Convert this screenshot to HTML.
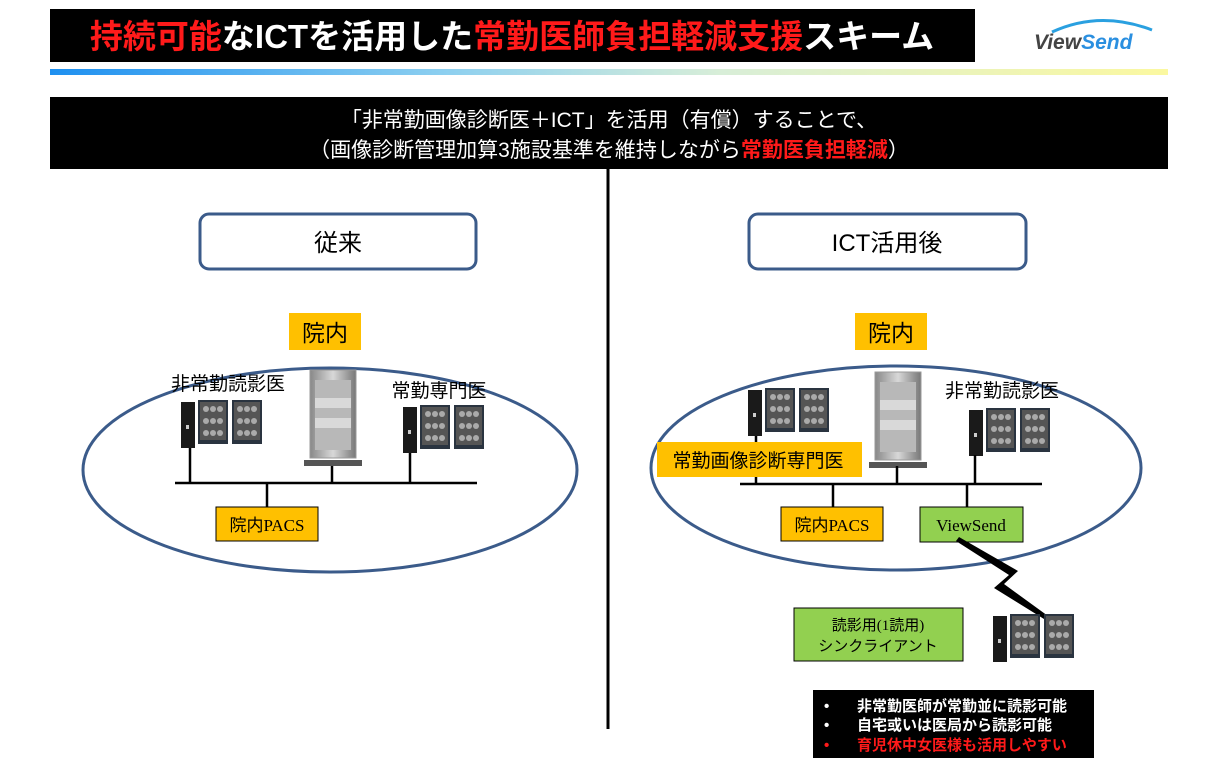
<!DOCTYPE html>
<html><head><meta charset="utf-8"><style>
body{margin:0;width:1218px;height:765px;background:#fff;overflow:hidden;font-family:"Liberation Sans","Noto Sans CJK JP",sans-serif}
svg{position:absolute;left:0;top:0}
</style></head><body>
<svg width="1218" height="765" viewBox="0 0 1218 765" font-family="Liberation Sans, Noto Sans CJK JP, sans-serif">
<defs>
<linearGradient id="g" x1="0" x2="1"><stop offset="0" stop-color="#1e90f0"/><stop offset="0.35" stop-color="#8ccff0"/><stop offset="0.6" stop-color="#d8eed8"/><stop offset="1" stop-color="#fbf8a0"/></linearGradient>
<linearGradient id="sv" x1="0" x2="1"><stop offset="0" stop-color="#888"/><stop offset="0.5" stop-color="#d8d8d8"/><stop offset="1" stop-color="#777"/></linearGradient>
<g id="mon"><rect x="0" y="0" width="30" height="44" fill="#2a3440"/><rect x="2" y="2" width="26" height="38" fill="#555"/>
<g fill="#aaa"><circle cx="8" cy="9" r="3"/><circle cx="15" cy="9" r="3"/><circle cx="22" cy="9" r="3"/><circle cx="8" cy="21" r="3"/><circle cx="15" cy="21" r="3"/><circle cx="22" cy="21" r="3"/><circle cx="8" cy="33" r="3"/><circle cx="15" cy="33" r="3"/><circle cx="22" cy="33" r="3"/></g></g>
<g id="ws"><rect x="0" y="2" width="14" height="46" fill="#1a1a1a"/><rect x="5" y="25" width="3" height="4" fill="#ccc"/><use href="#mon" x="17" y="0"/><use href="#mon" x="51" y="0"/></g>
<g id="srv"><rect x="6" y="0" width="46" height="88" fill="url(#sv)" stroke="#999"/><rect x="11" y="10" width="36" height="70" fill="#b8b8b8"/><rect x="11" y="28" width="36" height="10" fill="#eee" opacity=".6"/><rect x="11" y="48" width="36" height="10" fill="#eee" opacity=".6"/><path d="M0 90 L58 90 L58 96 L0 96Z" fill="#555"/></g>
</defs>
<rect x="50" y="9" width="925" height="53" fill="#000"/>
<text x="512" y="48" text-anchor="middle" font-size="33" font-weight="bold" fill="#fff"><tspan fill="#ff1a1a">持続可能</tspan>なICTを活用した<tspan fill="#ff1a1a">常勤医師負担軽減支援</tspan>スキーム</text>
<path d="M1052 32 Q1100 10 1152 30" stroke="#2aa0e0" stroke-width="3" fill="none"/>
<text x="1034" y="49" font-size="21" font-weight="bold" font-style="italic" fill="#444">View<tspan fill="#2a8fe0">Send</tspan></text>
<rect x="50" y="69" width="1118" height="6" fill="url(#g)"/>
<rect x="50" y="97" width="1118" height="72" fill="#000"/>
<text x="609" y="127" text-anchor="middle" font-size="21" fill="#fff">「非常勤画像診断医＋ICT」を活用（有償）することで、</text>
<text x="609" y="157" text-anchor="middle" font-size="21" fill="#fff">（画像診断管理加算3施設基準を維持しながら<tspan fill="#ff1a1a" font-weight="bold">常勤医負担軽減</tspan>）</text>
<rect x="606.5" y="169" width="3" height="560" fill="#000"/>
<rect x="200" y="214" width="276" height="55" rx="9" fill="#fff" stroke="#3b5b8a" stroke-width="3"/>
<text x="338" y="251" text-anchor="middle" font-size="24">従来</text>
<rect x="749" y="214" width="277" height="55" rx="9" fill="#fff" stroke="#3b5b8a" stroke-width="3"/>
<text x="887" y="251" text-anchor="middle" font-size="24">ICT活用後</text>
<ellipse cx="330" cy="470" rx="247" ry="102" fill="none" stroke="#3b5b8a" stroke-width="3"/>
<ellipse cx="896" cy="468" rx="245" ry="102" fill="none" stroke="#3b5b8a" stroke-width="3"/>
<rect x="289" y="313" width="72" height="37" fill="#ffc000"/><text x="325" y="341" text-anchor="middle" font-size="23">院内</text>
<rect x="855" y="313" width="72" height="37" fill="#ffc000"/><text x="891" y="341" text-anchor="middle" font-size="23">院内</text>
<text x="228" y="390" text-anchor="middle" font-size="19">非常勤読影医</text>
<text x="439" y="397" text-anchor="middle" font-size="19">常勤専門医</text>
<use href="#ws" x="181" y="400"/>
<use href="#srv" x="304" y="370"/>
<use href="#ws" x="403" y="405"/>
<g stroke="#000" stroke-width="2.5"><line x1="175" y1="483" x2="477" y2="483"/><line x1="190" y1="448" x2="190" y2="483"/><line x1="332" y1="466" x2="332" y2="483"/><line x1="410" y1="453" x2="410" y2="483"/><line x1="267" y1="483" x2="267" y2="507"/></g>
<rect x="216" y="507" width="102" height="34" fill="#ffc000" stroke="#000"/><text x="267" y="531" text-anchor="middle" font-size="17" font-family="Liberation Serif, Noto Sans CJK JP, serif">院内PACS</text>
<use href="#ws" x="748" y="388"/>
<use href="#srv" x="869" y="372"/>
<text x="1002" y="397" text-anchor="middle" font-size="19">非常勤読影医</text>
<use href="#ws" x="969" y="408"/>
<g stroke="#000" stroke-width="2.5"><line x1="740" y1="484" x2="1042" y2="484"/><line x1="756" y1="436" x2="756" y2="484"/><line x1="897" y1="466" x2="897" y2="484"/><line x1="975" y1="455" x2="975" y2="484"/><line x1="833" y1="484" x2="833" y2="507"/><line x1="967" y1="484" x2="967" y2="507"/></g>
<rect x="657" y="442" width="205" height="35" fill="#ffc000"/><text x="758" y="467" text-anchor="middle" font-size="19">常勤画像診断専門医</text>
<rect x="781" y="507" width="102" height="34" fill="#ffc000" stroke="#000"/><text x="832" y="531" text-anchor="middle" font-size="17" font-family="Liberation Serif, Noto Sans CJK JP, serif">院内PACS</text>
<rect x="920" y="507" width="103" height="35" fill="#92d050" stroke="#000"/><text x="971" y="531" text-anchor="middle" font-size="17" font-family="Liberation Serif, serif">ViewSend</text>
<path d="M959 537 L1018 571 L1004 584 L1048 616 L1044 619 L994 588 L1009 575 L956 541Z" fill="#000"/>
<rect x="794" y="608" width="169" height="53" fill="#92d050" stroke="#000"/>
<text x="878" y="630" text-anchor="middle" font-size="15" font-family="Liberation Serif, Noto Sans CJK JP, serif">読影用(1読用)</text>
<text x="878" y="651" text-anchor="middle" font-size="15">シンクライアント</text>
<use href="#ws" x="993" y="614"/>
<rect x="813" y="690" width="281" height="68" fill="#000"/>
<g font-size="15" font-weight="bold" fill="#fff"><text x="824" y="711">•</text><text x="857" y="711">非常勤医師が常勤並に読影可能</text>
<text x="824" y="730">•</text><text x="857" y="730">自宅或いは医局から読影可能</text>
<text x="824" y="750" fill="#ff1a1a">•</text><text x="857" y="750" fill="#ff1a1a">育児休中女医様も活用しやすい</text></g>
</svg>
</body></html>
